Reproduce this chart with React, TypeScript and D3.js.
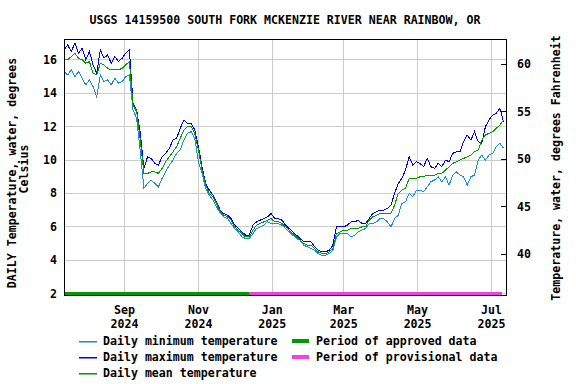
import React from 'react';
import * as d3 from 'd3';

const startDate = new Date(2024, 6, 13);
const stepDays = 3;

const maxTemp = [
  16.6, 16.9, 16.5, 17.0, 16.4, 16.7, 16.0, 16.5, 15.7, 15.2,
  16.6, 16.1, 16.3, 15.8, 16.2, 15.9, 16.1, 16.4, 16.6, 13.4,
  13.0, 11.6, 9.5, 10.2, 10.1, 9.8, 9.7, 10.2, 10.4, 10.7,
  11.2, 11.3, 11.9, 12.4, 12.2, 12.2, 11.8, 10.8, 9.6, 8.6,
  8.2, 7.9, 7.5, 7.0, 6.8, 6.7, 6.5, 6.1, 5.9, 5.7,
  5.5, 5.5, 6.1, 6.3, 6.4, 6.5, 6.6, 6.8, 6.5, 6.5,
  6.4, 6.1, 5.9, 5.7, 5.5, 5.3, 5.1, 5.1, 5.1, 4.8,
  4.6, 4.5, 4.5, 4.6, 4.9, 6.0, 6.0, 6.0, 6.1, 6.3,
  6.3, 6.4, 6.2, 6.2, 6.5, 6.8, 6.9, 7.0, 7.0, 7.1,
  7.3, 8.0, 8.6, 8.9, 9.4, 10.2, 9.7, 9.9, 9.8, 9.6,
  10.1, 9.6, 9.5, 9.8, 9.6, 10.0, 9.9, 10.4, 10.5, 10.5,
  11.1, 11.5, 11.2, 11.7, 11.1, 11.0, 12.0, 12.4, 12.7, 12.8,
  13.1, 12.3,
];

const meanTemp = [
  16.0, 16.0, 16.2, 16.4, 16.1, 16.0, 15.8, 15.9, 15.2, 15.1,
  15.8, 15.7, 15.5, 15.4, 15.4, 15.4, 15.5, 15.7, 15.9, 13.3,
  12.9, 11.2, 9.2, 9.2, 9.3, 9.3, 9.2, 9.5, 9.9, 10.2,
  10.5, 10.8, 11.3, 11.8, 12.0, 12.0, 11.6, 10.6, 9.4, 8.5,
  8.0, 7.8, 7.4, 6.9, 6.7, 6.6, 6.4, 6.0, 5.8, 5.6,
  5.4, 5.4, 5.8, 6.1, 6.2, 6.3, 6.4, 6.5, 6.3, 6.3,
  6.2, 6.0, 5.8, 5.6, 5.4, 5.2, 5.0, 4.9, 4.9, 4.7,
  4.5, 4.4, 4.4, 4.5, 4.7, 5.6, 5.7, 5.8, 5.8, 5.9,
  5.9, 5.9, 6.0, 6.0, 6.4, 6.6, 6.7, 6.8, 6.8, 6.8,
  6.8, 7.3, 8.0, 8.2, 8.3, 8.9, 8.9, 8.9, 9.0, 9.0,
  9.1, 9.1, 9.1, 9.2, 9.2, 9.4, 9.6, 9.8, 9.9, 10.0,
  10.1, 10.2, 10.3, 10.5, 10.6, 11.2, 11.5, 11.6, 11.7, 11.9,
  12.1, 12.4,
];

const minTemp = [
  15.3, 15.1, 15.4, 15.0, 15.3, 14.9, 14.5, 14.8, 14.4, 13.8,
  15.1, 14.7, 14.8, 14.5, 14.9, 14.6, 14.7, 15.0, 15.1, 13.0,
  12.5, 10.5, 8.3, 8.6, 8.8, 8.6, 8.4, 8.9, 9.3, 9.7,
  10.0, 10.4, 10.6, 11.2, 11.6, 11.7, 11.3, 9.9, 9.2, 8.3,
  7.9, 7.6, 7.2, 6.8, 6.6, 6.5, 6.2, 5.9, 5.7, 5.4,
  5.3, 5.3, 5.6, 5.9, 6.0, 6.1, 6.3, 6.2, 6.2, 6.2,
  6.1, 5.9, 5.7, 5.5, 5.3, 5.2, 4.9, 4.8, 4.7, 4.6,
  4.4, 4.3, 4.3, 4.4, 4.6, 5.4, 5.6, 5.6, 5.6, 5.4,
  5.5, 5.7, 5.8, 5.9, 6.2, 6.2, 6.3, 6.5, 6.5, 6.3,
  6.0, 6.5, 6.7, 7.4, 7.5, 8.0, 7.8, 8.2, 8.2, 8.1,
  8.4, 8.7, 8.8, 9.0, 8.7, 9.0, 8.5, 9.1, 9.3, 9.1,
  9.0, 8.5, 9.0, 9.1, 10.0, 10.3, 10.0, 10.3, 10.4, 10.8,
  11.0, 10.7,
];

const periodNames = ['approved', 'provisional'];
const periodStarts = [new Date(2024, 6, 13), new Date(2024, 11, 13)];
const periodEnds = [new Date(2024, 11, 13), new Date(2025, 6, 10)];

const monthTicks = [
  new Date(2024, 8, 1), new Date(2024, 10, 1), new Date(2025, 0, 1),
  new Date(2025, 2, 1), new Date(2025, 4, 1), new Date(2025, 6, 1),
];
const celsiusTicks = [2, 4, 6, 8, 10, 12, 14, 16];
const fahrenheitTicks = [40, 45, 50, 55, 60];

const title = 'USGS 14159500 SOUTH FORK MCKENZIE RIVER NEAR RAINBOW, OR';

const colors = {
  min: '#1c8bd6',
  max: '#0000f0',
  mean: '#009a00',
  approved: '#009a00',
  provisional: '#ee44dd',
  grid: '#cccccc',
};

const font = {
  fontFamily: '"DejaVu Sans Mono", monospace',
  fontWeight: 700,
  fontSize: 11.6,
};

const W = 576, H = 384;
const plot = { left: 64, right: 506, top: 39, bottom: 295.5 };

const App = () => {
  const x = d3.scaleTime()
    .domain([new Date(2024, 6, 13), new Date(2025, 6, 13)])
    .range([plot.left, plot.right]);
  const y = d3.scaleLinear().domain([1.89, 17.25]).range([plot.bottom, plot.top]);
  const yF = d3.scaleLinear().domain([35.68, 62.68]).range([plot.bottom, plot.top]);

  const dateAt = (i: number) => d3.timeDay.offset(startDate, i * stepDays);
  const line = d3.line<number>()
    .x((_, i) => x(dateAt(i)))
    .y((d) => y(d));

  const fmtMonth = d3.timeFormat('%b');
  const fmtYear = d3.timeFormat('%Y');

  const legendRows = [
    { label: 'Daily minimum temperature', color: colors.min },
    { label: 'Daily maximum temperature', color: colors.max },
    { label: 'Daily mean temperature', color: colors.mean },
  ];
  const legendBars = [
    { label: 'Period of approved data', color: colors.approved },
    { label: 'Period of provisional data', color: colors.provisional },
  ];

  return (
    <svg width={W} height={H} style={{ position: 'absolute', left: 0, top: 0, background: '#fff' }} {...font}>
      <text x={(plot.left + plot.right) / 2} y={24} textAnchor="middle">{title}</text>

      {/* grid */}
      <g stroke={colors.grid} strokeWidth={1} shapeRendering="crispEdges">
        {celsiusTicks.map((t) => (
          <line key={'h' + t} x1={plot.left} x2={plot.right} y1={y(t)} y2={y(t)} />
        ))}
        {monthTicks.map((t) => (
          <line key={'v' + t.getTime()} x1={x(t)} x2={x(t)} y1={plot.top} y2={plot.bottom} />
        ))}
      </g>

      {/* data periods */}
      {periodNames.map((p, i) => (
        <rect key={p} x={x(periodStarts[i])} width={x(periodEnds[i]) - x(periodStarts[i])}
          y={y(2) - 2} height={4} fill={colors[p as 'approved' | 'provisional']} shapeRendering="crispEdges" />
      ))}

      {/* series */}
      <g fill="none" strokeWidth={1} shapeRendering="crispEdges">
        <path d={line(minTemp) || ''} stroke={colors.min} />
        <path d={line(maxTemp) || ''} stroke={colors.max} />
        <path d={line(meanTemp) || ''} stroke={colors.mean} />
      </g>

      {/* frame */}
      <rect x={plot.left} y={plot.top} width={plot.right - plot.left} height={plot.bottom - plot.top}
        fill="none" stroke="#000" strokeWidth={1} shapeRendering="crispEdges" />

      {/* left axis */}
      {celsiusTicks.map((t) => (
        <text key={'cl' + t} x={57} y={y(t)} textAnchor="end" dominantBaseline="central">{t}</text>
      ))}
      <text transform={`translate(12,173) rotate(-90)`} textAnchor="middle" dominantBaseline="central">
        DAILY Temperature, water, degrees
      </text>
      <text transform={`translate(24,169) rotate(-90)`} textAnchor="middle" dominantBaseline="central">
        Celsius
      </text>

      {/* right axis */}
      {fahrenheitTicks.map((t) => (
        <g key={'f' + t}>
          <line x1={plot.right - 5} x2={plot.right} y1={yF(t)} y2={yF(t)} stroke="#000" shapeRendering="crispEdges" />
          <text x={517} y={yF(t)} dominantBaseline="central">{t}</text>
        </g>
      ))}
      <text transform={`translate(556,168) rotate(-90)`} textAnchor="middle" dominantBaseline="central">
        Temperature, water, degrees Fahrenheit
      </text>

      {/* x axis labels */}
      {monthTicks.map((t) => (
        <g key={'xl' + t.getTime()}>
          <text x={x(t)} y={310} textAnchor="middle" dominantBaseline="central">{fmtMonth(t)}</text>
          <text x={x(t)} y={323.5} textAnchor="middle" dominantBaseline="central">{fmtYear(t)}</text>
        </g>
      ))}

      {/* legend */}
      {legendRows.map((r, i) => (
        <g key={r.label}>
          <rect x={79} width={18} y={341 + i * 16} height={1.5} fill={r.color} />
          <text x={103} y={341 + i * 16} dominantBaseline="central">{r.label}</text>
        </g>
      ))}
      {legendBars.map((r, i) => (
        <g key={r.label}>
          <rect x={292} width={17} y={339 + i * 16} height={4} fill={r.color} />
          <text x={316} y={341 + i * 16} dominantBaseline="central">{r.label}</text>
        </g>
      ))}
    </svg>
  );
};

export default App;
